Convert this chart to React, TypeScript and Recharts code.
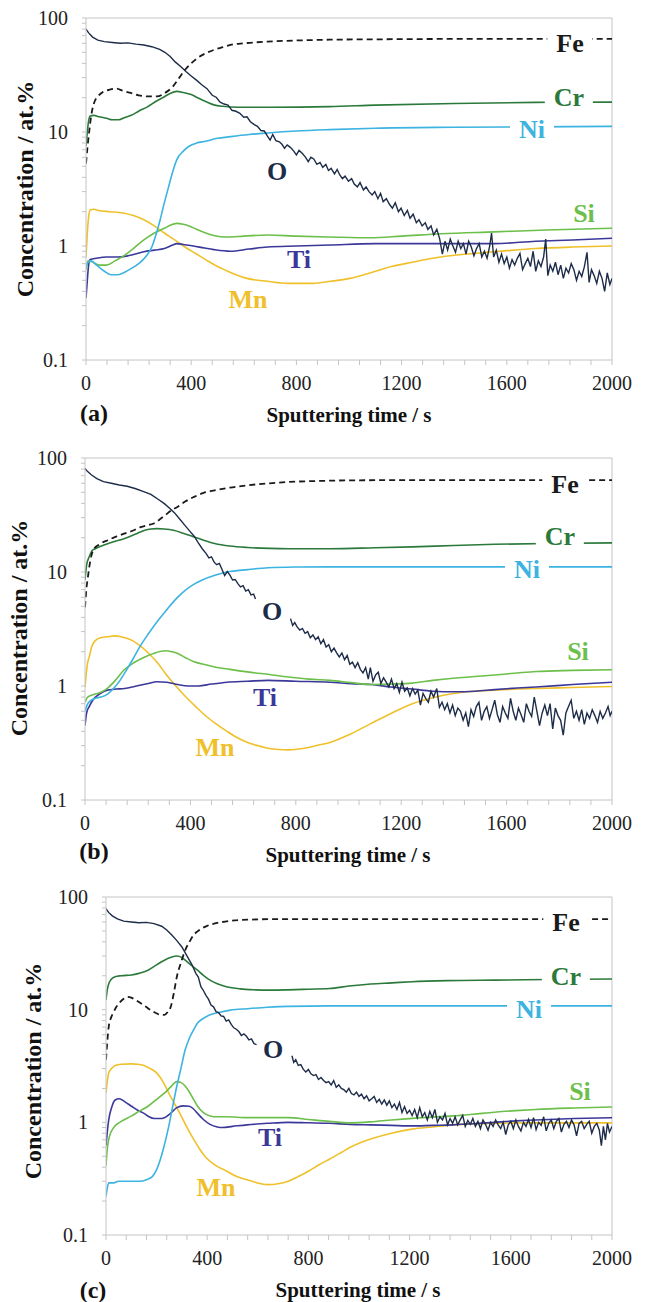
import React from 'react';
import { LineChart, Line, XAxis, YAxis, ReferenceLine } from 'recharts';

type Pt = [number, number | null];

// tick values
const xTicks = [0, 80, 160, 240, 320, 400, 480, 560, 640, 720, 800, 880, 960, 1040, 1120, 1200, 1280, 1360, 1440, 1520, 1600, 1680, 1760, 1840, 1920, 2000];
const xLabelled = [0, 400, 800, 1200, 1600, 2000];
const yTicks = [0.1, 0.2, 0.3, 0.4, 0.5, 0.6, 0.7, 0.8, 0.9, 1, 2, 3, 4, 5, 6, 7, 8, 9, 10, 20, 30, 40, 50, 60, 70, 80, 90, 100];
const yLabelled = [0.1, 1, 10, 100];

// ---- panel (a)
const feA: Pt[] = [[0,5.3],[6,7.5],[12,10],[20,14],[30,17.8],[45,20.5],[65,22.5],[90,23.5],[115,24],[140,23],[170,22],[200,21],[235,20.5],[270,20.5],[300,22],[330,25],[355,30],[376,35],[400,40],[424,44.5],[455,49],[486,52.5],[520,55.5],[549,58],[600,60],[690,62],[800,63.5],[925,64.5],[1100,65],[1400,65.5],[1700,65.5],[2000,65.5]];
const crA: Pt[] = [[0,7.5],[5,10],[10,12.5],[16,13.8],[30,14],[50,13.6],[78,13.2],[100,12.8],[125,12.8],[150,13.5],[172,14],[200,15.2],[235,16.7],[265,18.5],[298,20.4],[320,21.8],[345,22.7],[370,22.2],[400,21.3],[424,20],[455,18.5],[486,17.3],[520,16.8],[580,16.5],[700,16.5],[925,16.7],[1100,17.2],[1400,17.8],[1710,18.2],[2000,18.3]];
const niA: Pt[] = [[0,0.65],[8,0.72],[20,0.74],[40,0.68],[70,0.6],[94,0.56],[120,0.56],[141,0.58],[170,0.63],[204,0.71],[230,0.82],[251,0.99],[268,1.3],[282,1.7],[298,2.4],[314,3.3],[330,4.5],[345,5.7],[370,6.8],[392,7.5],[420,8.0],[455,8.3],[500,8.8],[549,9.1],[620,9.5],[690,9.8],[800,10.2],[925,10.5],[1100,10.8],[1400,11],[1700,11.1],[2000,11.2]];
const oA: Pt[] = [[0,80],[10,74],[25,68],[45,64],[70,62],[100,61],[130,60],[160,60.5],[190,59],[220,58],[250,56],[280,53],[300,50],[320,46],[340,41],[360,37.5],[380,34],[400,31],[420,28.5],[440,26],[460,24],[480,21],[495,20.2],[510,18.3],[525,17.6],[540,17.2],[555,15.5],[570,15.2],[585,14.6],[600,13.5],[612,13.6],[625,12.3],[640,11.6],[652,11.2],[665,10.3],[678,10.2],[690,9.2],[700,8.5],[710,9.5],[722,8.4],[735,8.2],[745,7.8],[755,7.2],[765,7.7],[778,7.3],[790,6.8],[800,6.3],[810,6.9],[822,6.5],[835,6.0],[845,5.5],[855,6.0],[866,5.8],[878,5.2],[890,5.4],[900,4.9],[912,5.2],[922,4.6],[932,4.8],[945,4.3],[955,4.7],[965,4.2],[975,3.9],[985,4.1],[998,3.7],[1010,3.9],[1020,3.5],[1032,3.3],[1042,3.6],[1055,3.1],[1065,3.3],[1076,3.0],[1088,2.8],[1098,3.0],[1110,2.6],[1120,2.9],[1130,2.45],[1142,2.6],[1155,2.3],[1165,2.15],[1176,2.4],[1188,2.0],[1198,2.15],[1210,1.85],[1222,2.05],[1232,1.75],[1244,1.9],[1256,1.6],[1266,1.7],[1278,1.5],[1290,1.6],[1300,1.4],[1312,1.5],[1322,1.25],[1334,1.4],[1345,1.15],[1355,0.85],[1365,1.1],[1375,0.92],[1385,1.15],[1395,1.0],[1405,0.88],[1415,1.1],[1425,0.95],[1435,1.05],[1445,0.85],[1455,1.1],[1465,0.98],[1475,0.82],[1485,0.95],[1495,1.05],[1505,0.8],[1515,0.9],[1525,0.78],[1535,1.0],[1542,1.3],[1550,0.8],[1560,0.92],[1570,0.72],[1580,0.85],[1590,0.7],[1600,0.8],[1610,0.64],[1620,0.76],[1630,0.68],[1640,0.78],[1650,0.86],[1660,0.62],[1670,0.7],[1680,0.78],[1690,0.66],[1700,0.9],[1710,0.6],[1720,0.74],[1730,0.66],[1740,0.8],[1748,1.15],[1756,0.55],[1765,0.68],[1775,0.6],[1785,0.72],[1795,0.56],[1805,0.68],[1815,0.52],[1825,0.64],[1835,0.58],[1845,0.7],[1855,0.62],[1865,0.5],[1875,0.6],[1885,0.54],[1895,0.66],[1905,0.88],[1913,0.48],[1922,0.62],[1932,0.55],[1942,0.47],[1952,0.6],[1962,0.52],[1972,0.4],[1982,0.58],[1992,0.46],[2000,0.52]];
const siA: Pt[] = [[0,0.62],[8,0.74],[20,0.73],[50,0.68],[78,0.68],[110,0.74],[141,0.81],[180,0.95],[220,1.13],[260,1.3],[298,1.43],[320,1.52],[345,1.58],[370,1.55],[392,1.5],[420,1.4],[455,1.3],[490,1.23],[533,1.2],[600,1.22],[690,1.25],[800,1.22],[925,1.2],[1082,1.18],[1200,1.22],[1350,1.28],[1553,1.33],[1750,1.38],[2000,1.43]];
const tiA: Pt[] = [[0,0.35],[5,0.5],[10,0.68],[16,0.76],[40,0.78],[78,0.8],[120,0.8],[160,0.82],[220,0.89],[260,0.92],[298,0.95],[330,1.02],[345,1.05],[370,1.03],[408,1.0],[450,0.96],[486,0.93],[549,0.9],[620,0.94],[690,0.98],[800,1.0],[925,1.02],[1100,1.05],[1300,1.05],[1553,1.05],[1710,1.1],[1850,1.13],[2000,1.17]];
const mnA: Pt[] = [[0,0.8],[5,1.3],[10,1.8],[16,2.07],[30,2.1],[47,2.05],[90,2.0],[141,1.95],[180,1.85],[220,1.7],[260,1.5],[298,1.3],[340,1.12],[376,0.98],[420,0.85],[455,0.76],[500,0.66],[533,0.61],[570,0.56],[612,0.52],[690,0.49],[769,0.47],[863,0.47],[930,0.49],[1004,0.52],[1080,0.58],[1161,0.66],[1240,0.72],[1318,0.78],[1400,0.83],[1474,0.86],[1600,0.91],[1710,0.95],[1850,0.98],[2000,1.0]];

// ---- panel (b)
const feB: Pt[] = [[0,4.9],[5,7],[11,9],[20,12.5],[31,15.5],[55,17.5],[86,19],[120,20.5],[148,21.7],[180,23],[211,24.8],[240,25.8],[258,26.5],[280,28.5],[305,31.6],[330,35],[352,37.3],[380,41.5],[414,45.6],[450,49.5],[492,52],[550,55],[617,57.6],[700,60],[773,61.6],[900,63],[1008,63.7],[1300,64],[1600,64],[2000,64]];
const crB: Pt[] = [[0,8.5],[6,11.5],[16,13.6],[28,15.5],[39,16],[60,16.8],[86,17.7],[115,18.6],[148,19.6],[190,21.4],[227,23.2],[250,23.8],[273,24],[300,23.8],[336,23.2],[375,21.8],[414,20.3],[450,19],[492,17.8],[550,16.9],[617,16.4],[700,16.1],[773,16],[930,16],[1100,16.3],[1242,16.6],[1400,17.1],[1555,17.5],[1750,17.8],[2000,18]];
const niB: Pt[] = [[0,0.6],[8,0.68],[20,0.74],[39,0.78],[60,0.8],[86,0.85],[110,0.96],[133,1.12],[155,1.35],[180,1.69],[210,2.25],[242,2.9],[275,3.7],[305,4.5],[336,5.5],[367,6.5],[405,7.6],[445,8.5],[490,9.3],[539,10],[617,10.5],[695,10.9],[800,11.05],[930,11.1],[1200,11.1],[1600,11.1],[2000,11.1]];
const oB: Pt[] = [[0,81],[10,76],[25,71],[45,66],[70,62],[100,60],[130,58],[160,56.5],[190,54],[220,51],[250,48],[280,43],[300,40],[320,36.5],[340,33],[360,29],[380,25.5],[400,22.5],[415,20.5],[430,18],[445,16],[460,14.5],[470,13.3],[480,13.6],[490,12.2],[500,11.6],[510,11.9],[520,10.5],[530,9.3],[540,10.1],[550,9.4],[560,8.5],[570,8.6],[580,7.9],[590,7.4],[600,7.6],[610,6.8],[620,7.0],[630,6.3],[640,6.4],[647,5.8],[650,null],[780,3.9],[788,3.4],[796,3.6],[805,3.3],[815,3.1],[825,3.2],[835,2.9],[845,3.0],[855,2.65],[865,2.8],[875,2.55],[885,2.7],[895,2.35],[905,2.55],[915,2.2],[925,2.3],[935,2.0],[945,2.15],[955,1.95],[965,1.8],[975,1.95],[985,1.7],[995,1.85],[1005,1.55],[1015,1.62],[1025,1.45],[1035,1.6],[1045,1.4],[1055,1.3],[1065,1.45],[1075,1.15],[1083,1.45],[1093,1.1],[1103,1.25],[1113,1.32],[1123,1.05],[1133,1.18],[1143,1.08],[1153,0.98],[1163,1.15],[1173,0.95],[1183,1.05],[1193,0.88],[1203,1.08],[1213,0.9],[1223,0.96],[1233,0.82],[1243,0.95],[1253,0.85],[1263,0.92],[1273,0.68],[1283,0.86],[1293,0.78],[1303,0.72],[1313,0.9],[1323,0.8],[1335,0.95],[1345,0.65],[1355,0.72],[1365,0.62],[1375,0.7],[1385,0.58],[1395,0.68],[1405,0.55],[1415,0.64],[1425,0.6],[1435,0.5],[1445,0.58],[1455,0.44],[1465,0.62],[1475,0.54],[1485,0.66],[1495,0.72],[1505,0.5],[1515,0.6],[1525,0.66],[1535,0.52],[1545,0.62],[1555,0.75],[1565,0.56],[1575,0.48],[1585,0.66],[1595,0.58],[1605,0.52],[1615,0.78],[1625,0.6],[1635,0.5],[1645,0.64],[1655,0.56],[1665,0.48],[1675,0.7],[1685,0.6],[1695,0.54],[1705,0.8],[1715,0.6],[1725,0.45],[1735,0.58],[1745,0.68],[1755,0.55],[1765,0.7],[1775,0.42],[1785,0.64],[1795,0.55],[1805,0.5],[1815,0.37],[1825,0.58],[1835,0.66],[1845,0.75],[1855,0.52],[1865,0.6],[1875,0.5],[1885,0.62],[1895,0.46],[1905,0.58],[1915,0.52],[1925,0.62],[1935,0.55],[1945,0.48],[1955,0.6],[1965,0.52],[1975,0.58],[1985,0.66],[1993,0.55],[2000,0.6]];
const siB: Pt[] = [[0,0.72],[10,0.8],[39,0.85],[60,0.88],[86,0.96],[115,1.12],[148,1.38],[185,1.6],[227,1.8],[265,1.95],[305,2.04],[330,2.0],[352,1.93],[380,1.78],[414,1.63],[450,1.55],[492,1.47],[550,1.4],[617,1.33],[700,1.26],[773,1.2],[850,1.15],[930,1.12],[1010,1.07],[1086,1.03],[1160,1.04],[1242,1.06],[1320,1.12],[1398,1.17],[1480,1.21],[1555,1.25],[1640,1.3],[1711,1.34],[1850,1.37],[2000,1.39]];
const tiB: Pt[] = [[0,0.45],[6,0.58],[16,0.66],[35,0.78],[55,0.85],[85,0.92],[117,0.94],[150,0.95],[195,1.0],[240,1.05],[273,1.09],[310,1.08],[352,1.03],[390,1.0],[430,1.0],[480,1.04],[539,1.08],[617,1.1],[695,1.12],[800,1.1],[930,1.08],[1010,1.05],[1086,1.03],[1160,0.98],[1242,0.94],[1320,0.9],[1398,0.89],[1480,0.9],[1555,0.93],[1640,0.96],[1711,0.98],[1850,1.03],[2000,1.08]];
const mnB: Pt[] = [[0,0.98],[5,1.3],[10,1.6],[16,1.8],[25,2.2],[39,2.5],[60,2.65],[86,2.7],[110,2.75],[133,2.72],[158,2.62],[180,2.5],[210,2.25],[242,1.93],[275,1.6],[305,1.29],[345,1.0],[383,0.8],[420,0.66],[461,0.54],[500,0.46],[539,0.4],[580,0.35],[617,0.32],[655,0.3],[695,0.284],[735,0.277],[773,0.275],[810,0.28],[852,0.29],[890,0.305],[930,0.32],[1008,0.38],[1086,0.47],[1165,0.58],[1242,0.7],[1320,0.79],[1398,0.86],[1480,0.9],[1555,0.92],[1640,0.94],[1711,0.95],[1850,0.97],[2000,0.99]];

// ---- panel (c)
const feC: Pt[] = [[0,3.6],[5,5.2],[11,7.1],[20,8.5],[28,9.3],[40,10.5],[52,11.4],[70,12.5],[85,13],[100,12.8],[117,12.2],[140,11.3],[158,10.6],[180,9.8],[199,9.3],[215,9.0],[231,9.0],[245,9.6],[256,10.6],[268,14],[280,19.6],[296,26],[313,33.7],[330,40],[346,45.9],[362,49.5],[378,52.5],[400,55.5],[427,58],[460,60],[509,62],[570,63],[639,63.5],[800,63.5],[1200,63.5],[2000,63.5]];
const crC: Pt[] = [[0,12.2],[5,15],[11,17],[20,18.5],[36,19.6],[60,20],[101,20.3],[130,21],[166,22.4],[200,25],[231,27.5],[255,29],[280,29.9],[300,29],[313,27.5],[335,25],[362,22.4],[385,20.2],[411,18.3],[440,17],[476,16],[530,15.3],[590,15],[650,14.9],[720,15],[800,15.2],[883,15.4],[960,16.2],[1046,16.9],[1130,17.3],[1209,17.7],[1350,18.1],[1535,18.3],[1750,18.5],[2000,18.7]];
const niC: Pt[] = [[0,0.22],[5,0.26],[11,0.29],[30,0.29],[50,0.3],[68,0.3],[100,0.3],[134,0.3],[160,0.31],[183,0.33],[200,0.38],[215,0.47],[230,0.62],[248,0.92],[264,1.4],[280,2.1],[296,3.0],[313,4.4],[330,5.6],[346,6.6],[362,7.6],[386,8.4],[411,9.0],[450,9.5],[492,9.9],[560,10.2],[639,10.5],[720,10.7],[883,10.8],[1200,10.8],[1600,10.8],[2000,10.8]];
const oC: Pt[] = [[0,79],[10,73],[25,68],[45,64],[70,61],[100,60],[130,59],[160,59.5],[190,58],[220,55],[240,51],[260,46],[280,41],[300,36],[320,30],[340,25],[355,21],[365,19.5],[375,16],[385,14.8],[395,13.4],[405,12.4],[415,11.0],[425,10.6],[435,9.6],[445,9.4],[455,8.8],[465,8.7],[475,7.9],[485,8.1],[495,7.4],[505,6.9],[515,6.7],[525,6.4],[535,5.9],[545,6.1],[555,5.8],[565,5.4],[575,5.5],[585,5.0],[595,4.9],[600,null],[735,3.9],[742,3.4],[750,3.6],[760,3.2],[770,3.25],[780,2.95],[790,2.8],[800,2.95],[810,2.7],[820,2.6],[830,2.65],[840,2.4],[850,2.5],[860,2.35],[870,2.25],[880,2.3],[890,2.15],[900,2.35],[910,2.05],[920,2.15],[930,2.0],[940,1.95],[950,1.85],[960,2.0],[970,1.8],[980,1.75],[990,1.85],[1000,1.7],[1010,1.78],[1020,1.62],[1030,1.72],[1040,1.55],[1050,1.62],[1060,1.7],[1070,1.5],[1080,1.6],[1090,1.45],[1100,1.58],[1110,1.42],[1120,1.55],[1130,1.35],[1140,1.45],[1150,1.3],[1160,1.5],[1170,1.22],[1180,1.38],[1190,1.2],[1200,1.28],[1210,1.15],[1220,1.3],[1230,1.1],[1240,1.35],[1250,1.12],[1260,1.22],[1270,1.05],[1280,1.25],[1290,1.1],[1300,1.3],[1310,1.0],[1320,1.12],[1330,1.05],[1340,1.2],[1350,0.95],[1360,1.08],[1370,0.98],[1380,1.12],[1390,0.95],[1400,1.05],[1410,1.15],[1420,0.92],[1430,1.04],[1440,0.96],[1450,1.08],[1460,0.92],[1470,1.02],[1480,0.88],[1490,1.05],[1500,0.96],[1510,0.85],[1520,1.0],[1530,0.92],[1540,1.05],[1550,0.95],[1560,0.88],[1570,1.0],[1580,0.78],[1590,0.95],[1600,1.02],[1610,0.88],[1620,1.05],[1630,0.92],[1640,0.84],[1650,1.0],[1660,0.92],[1670,1.06],[1680,0.9],[1690,1.1],[1700,0.86],[1710,1.0],[1720,0.94],[1730,1.12],[1740,0.84],[1750,0.98],[1760,1.05],[1770,0.88],[1780,1.02],[1790,1.08],[1800,0.82],[1810,0.96],[1820,1.02],[1830,0.9],[1840,1.05],[1850,0.95],[1860,0.76],[1870,0.98],[1880,1.02],[1890,0.88],[1900,0.96],[1910,1.02],[1920,0.8],[1930,0.92],[1940,0.98],[1950,0.85],[1958,0.62],[1966,0.92],[1974,0.7],[1982,0.98],[1990,0.82],[2000,0.92]];
const siC: Pt[] = [[0,0.41],[5,0.58],[11,0.71],[22,0.84],[36,0.93],[60,1.02],[101,1.14],[130,1.25],[166,1.39],[200,1.6],[231,1.82],[255,2.05],[280,2.3],[297,2.25],[313,2.1],[330,1.85],[346,1.6],[362,1.39],[385,1.22],[411,1.14],[440,1.12],[476,1.12],[560,1.1],[640,1.1],[720,1.1],[800,1.06],[883,1.02],[965,0.99],[1046,1.01],[1128,1.05],[1250,1.1],[1372,1.14],[1450,1.18],[1535,1.23],[1620,1.27],[1698,1.3],[1850,1.34],[2000,1.37]];
const tiC: Pt[] = [[0,0.62],[5,0.82],[11,1.06],[22,1.35],[36,1.58],[52,1.62],[75,1.52],[101,1.39],[125,1.28],[150,1.2],[170,1.12],[191,1.08],[211,1.08],[231,1.1],[255,1.2],[280,1.35],[305,1.4],[329,1.39],[345,1.32],[362,1.2],[385,1.06],[411,0.96],[440,0.91],[460,0.9],[500,0.92],[557,0.95],[640,0.98],[720,1.0],[800,0.99],[883,0.98],[965,0.96],[1046,0.95],[1128,0.94],[1209,0.93],[1290,0.94],[1372,0.95],[1450,0.97],[1535,1.0],[1620,1.03],[1698,1.05],[1850,1.08],[2000,1.1]];
const mnC: Pt[] = [[0,1.82],[5,2.3],[11,2.76],[22,3.0],[36,3.2],[60,3.28],[101,3.3],[125,3.28],[150,3.2],[175,3.0],[199,2.76],[225,2.3],[248,1.82],[272,1.45],[297,1.14],[320,0.9],[346,0.71],[370,0.58],[394,0.49],[430,0.42],[476,0.37],[517,0.33],[557,0.31],[598,0.29],[639,0.28],[680,0.285],[720,0.3],[760,0.33],[802,0.37],[842,0.42],[883,0.47],[924,0.53],[965,0.6],[1005,0.66],[1046,0.71],[1128,0.8],[1209,0.87],[1290,0.91],[1372,0.95],[1454,0.97],[1535,0.98],[1700,0.99],[2000,0.99]];

const colors = {
  Fe: '#1a1a1a',
  Cr: '#2b7a3b',
  Ni: '#3cb3e0',
  O: '#1d2c48',
  Si: '#6cbf4a',
  Ti: '#3b3899',
  Mn: '#f0c02a',
};

const serif = "'Liberation Serif', 'Times New Roman', Times, 'DejaVu Serif', serif";
const axisGray = '#c4c4c4';

const pts = (a: Pt[]) => a.map(([t, v]) => ({ t, v }));

interface PanelProps {
  top: number;
  height: number;
  plotLeft: number;
  plotTop: number;
  plotBottom: number;
  fe: Pt[]; cr: Pt[]; ni: Pt[]; o: Pt[]; si: Pt[]; ti: Pt[]; mn: Pt[];
}

function Panel({ top, height, plotLeft, plotTop, plotBottom, fe, cr, ni, o, si, ti, mn }: PanelProps) {
  const xh = 40;
  return (
    <div style={{ position: 'absolute', left: 0, top, width: 646, height }}>
      <LineChart
        width={646}
        height={height}
        margin={{ top: plotTop, right: 34, bottom: height - plotBottom - xh, left: 0 }}
        style={{ fontFamily: serif }}
      >
        <XAxis
          dataKey="t"
          type="number"
          domain={[0, 2000]}
          ticks={xTicks}
          interval={0}
          allowDataOverflow
          height={xh}
          stroke={axisGray}
          tickSize={5}
          tickMargin={11}
          tick={{ fill: '#222', fontSize: 20, fontFamily: serif }}
          tickFormatter={(v: number) => (xLabelled.includes(v) ? String(v) : '')}
        />
        <YAxis
          type="number"
          scale="log"
          domain={[0.1, 100]}
          ticks={yTicks}
          interval={0}
          allowDataOverflow
          width={plotLeft}
          stroke={axisGray}
          tickSize={4}
          tickMargin={14}
          tick={{ fill: '#222', fontSize: 20, fontFamily: serif }}
          tickFormatter={(v: number) => (yLabelled.includes(v) ? String(v) : '')}
        />
        <ReferenceLine y={100} stroke={axisGray} />
        <ReferenceLine x={2000} stroke={axisGray} />
        <Line data={pts(mn)} dataKey="v" type="monotone" stroke={colors.Mn} strokeWidth={1.6} dot={false} isAnimationActive={false} />
        <Line data={pts(ti)} dataKey="v" type="monotone" stroke={colors.Ti} strokeWidth={1.6} dot={false} isAnimationActive={false} />
        <Line data={pts(si)} dataKey="v" type="monotone" stroke={colors.Si} strokeWidth={1.6} dot={false} isAnimationActive={false} />
        <Line data={pts(ni)} dataKey="v" type="monotone" stroke={colors.Ni} strokeWidth={1.6} dot={false} isAnimationActive={false} />
        <Line data={pts(cr)} dataKey="v" type="monotone" stroke={colors.Cr} strokeWidth={1.6} dot={false} isAnimationActive={false} />
        <Line data={pts(o)} dataKey="v" type="linear" stroke={colors.O} strokeWidth={1.4} dot={false} connectNulls={false} isAnimationActive={false} />
        <Line data={pts(fe)} dataKey="v" type="monotone" stroke={colors.Fe} strokeWidth={1.8} strokeDasharray="6 4" dot={false} isAnimationActive={false} />
      </LineChart>
    </div>
  );
}

function Tag({ x, y, text, color, size = 26, bold = true, bg = false }: { x: number; y: number; text: string; color: string; size?: number; bold?: boolean; bg?: boolean }) {
  return (
    <div
      style={{
        position: 'absolute',
        left: x,
        top: y,
        transform: 'translate(-50%, -50%)',
        fontFamily: serif,
        fontWeight: bold ? 'bold' : 'normal',
        fontSize: size,
        lineHeight: `${size}px`,
        color,
        background: bg ? '#fff' : 'transparent',
        padding: bg ? '0 9px' : 0,
        whiteSpace: 'nowrap',
      }}
    >
      {text}
    </div>
  );
}

function YTitle({ x, y }: { x: number; y: number }) {
  return (
    <div
      style={{
        position: 'absolute',
        left: x,
        top: y,
        transform: 'translate(-50%, -50%) rotate(-90deg)',
        fontFamily: serif,
        fontWeight: 'bold',
        fontSize: 24,
        lineHeight: '24px',
        color: '#111',
        whiteSpace: 'nowrap',
      }}
    >
      Concentration / at.%
    </div>
  );
}

export default function App() {
  return (
    <div style={{ position: 'absolute', left: 0, top: 0, width: 646, height: 1302, background: '#fff', fontFamily: serif }}>
      <Panel top={0} height={440} plotLeft={86} plotTop={18} plotBottom={360} fe={feA} cr={crA} ni={niA} o={oA} si={siA} ti={tiA} mn={mnA} />
      <Panel top={440} height={440} plotLeft={85} plotTop={18} plotBottom={360} fe={feB} cr={crB} ni={niB} o={oB} si={siB} ti={tiB} mn={mnB} />
      <Panel top={880} height={422} plotLeft={106} plotTop={17} plotBottom={355} fe={feC} cr={crC} ni={niC} o={oC} si={siC} ti={tiC} mn={mnC} />

      {/* panel (a) labels */}
      <YTitle x={25} y={189} />
      <Tag x={94} y={413} text="(a)" color="#111" size={24} />
      <Tag x={349} y={415} text="Sputtering time / s" color="#111" size={21} />
      <Tag x={570} y={44} text="Fe" color={colors.Fe} bg />
      <Tag x={569} y={98} text="Cr" color={colors.Cr} bg />
      <Tag x={532} y={130} text="Ni" color={colors.Ni} bg />
      <Tag x={277} y={172} text="O" color={colors.O} />
      <Tag x={584} y={214} text="Si" color={colors.Si} />
      <Tag x={299} y={260} text="Ti" color={colors.Ti} />
      <Tag x={248} y={300} text="Mn" color={colors.Mn} />

      {/* panel (b) labels */}
      <YTitle x={19} y={628} />
      <Tag x={94} y={851} text="(b)" color="#111" size={24} />
      <Tag x={348} y={855} text="Sputtering time / s" color="#111" size={21} />
      <Tag x={565} y={485} text="Fe" color={colors.Fe} bg />
      <Tag x={560} y={537} text="Cr" color={colors.Cr} bg />
      <Tag x={527} y={570} text="Ni" color={colors.Ni} bg />
      <Tag x={272} y={612} text="O" color={colors.O} />
      <Tag x={578} y={652} text="Si" color={colors.Si} />
      <Tag x={265} y={698} text="Ti" color={colors.Ti} />
      <Tag x={215} y={748} text="Mn" color={colors.Mn} />

      {/* panel (c) labels */}
      <YTitle x={33} y={1071} />
      <Tag x={93} y={1290} text="(c)" color="#111" size={24} />
      <Tag x={358} y={1290} text="Sputtering time / s" color="#111" size={21} />
      <Tag x={566} y={923} text="Fe" color={colors.Fe} bg />
      <Tag x={566} y={977} text="Cr" color={colors.Cr} bg />
      <Tag x={529} y={1010} text="Ni" color={colors.Ni} bg />
      <Tag x={273} y={1050} text="O" color={colors.O} />
      <Tag x={580} y={1092} text="Si" color={colors.Si} />
      <Tag x={270} y={1138} text="Ti" color={colors.Ti} />
      <Tag x={216} y={1188} text="Mn" color={colors.Mn} />
    </div>
  );
}
